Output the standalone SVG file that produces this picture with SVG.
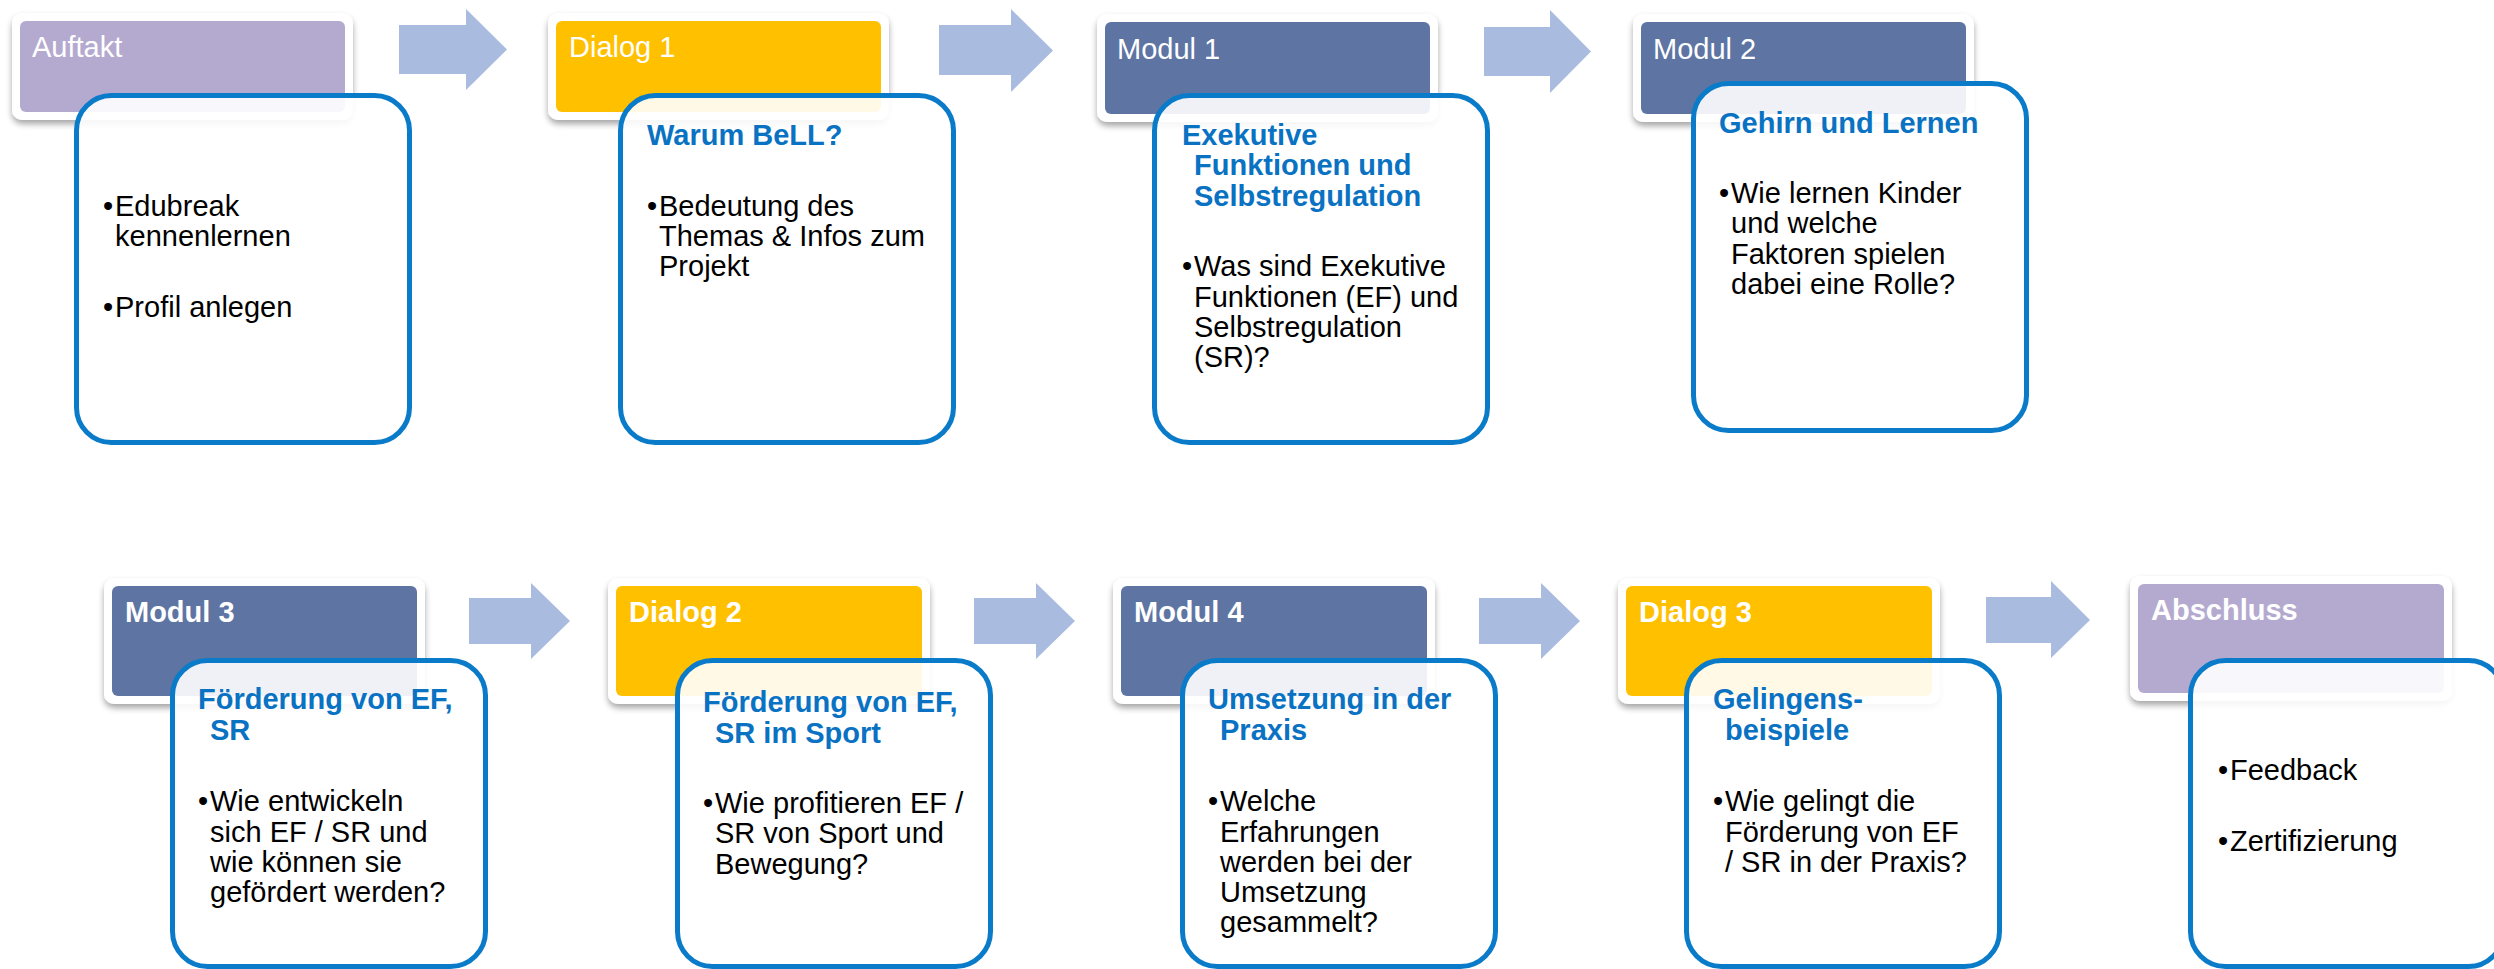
<svg xmlns="http://www.w3.org/2000/svg" width="2494" height="969" viewBox="0 0 2494 969">
  <defs>
    <filter id="cardShadow" x="-10%" y="-20%" width="120%" height="150%">
      <feGaussianBlur in="SourceAlpha" stdDeviation="3"/>
      <feOffset dx="0" dy="4" result="blur"/>
      <feComponentTransfer><feFuncA type="linear" slope="0.35"/></feComponentTransfer>
      <feMerge><feMergeNode/><feMergeNode in="SourceGraphic"/></feMerge>
    </filter>
    <style>
      text { font-family: "Liberation Sans", Arial, sans-serif; font-size: 29px; }
      .frame { fill: #ffffff; filter: url(#cardShadow); }
      .purple { fill: #B4AAD0; }
      .yellow { fill: #FFC000; }
      .slate { fill: #5E74A3; }
      .title { fill: #ffffff; }
      .title-b { fill: #ffffff; font-weight: bold; }
      .box { fill: #ffffff; fill-opacity: 0.9; stroke: #0A7BC8; stroke-width: 5; }
      .head { fill: #0A72C2; font-weight: bold; }
      .body { fill: #000000; }
      .arrow { fill: #A9BCE0; }
    </style>
  </defs>

  <rect width="2494" height="969" fill="#ffffff"/>

  <!-- flow arrows between the stages -->
  <g id="connectors">
    <polygon class="arrow" points="399,25 466,25 466,9 507,49.5 466,90 466,74 399,74"/>
    <polygon class="arrow" points="939,25 1011,25 1011,9 1053,50.5 1011,92 1011,75 939,75"/>
    <polygon class="arrow" points="1484,27 1550,27 1550,10 1591,51.5 1550,93 1550,76 1484,76"/>
    <polygon class="arrow" points="469,598 531,598 531,583 570,621 531,659 531,644 469,644"/>
    <polygon class="arrow" points="974,598 1036,598 1036,583 1075,621 1036,659 1036,644 974,644"/>
    <polygon class="arrow" points="1479,598 1541,598 1541,583 1580,621 1541,659 1541,644 1479,644"/>
    <polygon class="arrow" points="1986,597 2051,597 2051,581 2090,620 2051,658 2051,643 1986,643"/>
  </g>

  <!-- top row -->
  <g id="auftakt">
    <rect class="frame" x="12" y="13" width="341" height="107" rx="10"/>
    <rect class="purple" x="20" y="21" width="325" height="91" rx="6"/>
    <text class="title" x="32" y="57">Auftakt</text>
    <rect class="box" x="76.5" y="95.5" width="333" height="347" rx="35"/>
    <text class="body" x="103" y="216">•</text>
    <text class="body" x="115" y="216">Edubreak</text>
    <text class="body" x="115" y="246">kennenlernen</text>
    <text class="body" x="103" y="317">•</text>
    <text class="body" x="115" y="317">Profil anlegen</text>
  </g>

  <g id="dialog1">
    <rect class="frame" x="548" y="13" width="341" height="107" rx="10"/>
    <rect class="yellow" x="556" y="21" width="325" height="91" rx="6"/>
    <text class="title" x="569" y="57">Dialog 1</text>
    <rect class="box" x="620.5" y="95.5" width="333" height="347" rx="35"/>
    <text class="head" x="647" y="145">Warum BeLL?</text>
    <text class="body" x="647" y="216">•</text>
    <text class="body" x="659" y="216">Bedeutung des</text>
    <text class="body" x="659" y="246">Themas &amp; Infos zum</text>
    <text class="body" x="659" y="276">Projekt</text>
  </g>

  <g id="modul1">
    <rect class="frame" x="1097" y="14" width="341" height="108" rx="10"/>
    <rect class="slate" x="1105" y="22" width="325" height="92" rx="6"/>
    <text class="title" x="1117" y="59">Modul 1</text>
    <rect class="box" x="1154.5" y="95.5" width="333" height="347" rx="35"/>
    <text class="head" x="1182" y="145">Exekutive</text>
    <text class="head" x="1194" y="175">Funktionen und</text>
    <text class="head" x="1194" y="206">Selbstregulation</text>
    <text class="body" x="1182" y="276">•</text>
    <text class="body" x="1194" y="276">Was sind Exekutive</text>
    <text class="body" x="1194" y="307">Funktionen (EF) und</text>
    <text class="body" x="1194" y="337">Selbstregulation</text>
    <text class="body" x="1194" y="367">(SR)?</text>
  </g>

  <g id="modul2">
    <rect class="frame" x="1633" y="14" width="341" height="108" rx="10"/>
    <rect class="slate" x="1641" y="22" width="325" height="92" rx="6"/>
    <text class="title" x="1653" y="59">Modul 2</text>
    <rect class="box" x="1693.5" y="83.5" width="333" height="347" rx="35"/>
    <text class="head" x="1719" y="133">Gehirn und Lernen</text>
    <text class="body" x="1719" y="203">•</text>
    <text class="body" x="1731" y="203">Wie lernen Kinder</text>
    <text class="body" x="1731" y="233">und welche</text>
    <text class="body" x="1731" y="264">Faktoren spielen</text>
    <text class="body" x="1731" y="294">dabei eine Rolle?</text>
  </g>

  <!-- bottom row -->
  <g id="modul3">
    <rect class="frame" x="104" y="578" width="321" height="126" rx="10"/>
    <rect class="slate" x="112" y="586" width="305" height="110" rx="6"/>
    <text class="title-b" x="125" y="622">Modul 3</text>
    <rect class="box" x="172.5" y="660.5" width="313" height="306" rx="35"/>
    <text class="head" x="198" y="709">Förderung von EF,</text>
    <text class="head" x="210" y="740">SR</text>
    <text class="body" x="198" y="811">•</text>
    <text class="body" x="210" y="811">Wie entwickeln</text>
    <text class="body" x="210" y="842">sich EF / SR und</text>
    <text class="body" x="210" y="872">wie können sie</text>
    <text class="body" x="210" y="902">gefördert werden?</text>
  </g>

  <g id="dialog2">
    <rect class="frame" x="608" y="578" width="322" height="126" rx="10"/>
    <rect class="yellow" x="616" y="586" width="306" height="110" rx="6"/>
    <text class="title-b" x="629" y="622">Dialog 2</text>
    <rect class="box" x="677.5" y="660.5" width="313" height="306" rx="35"/>
    <text class="head" x="703" y="712">Förderung von EF,</text>
    <text class="head" x="715" y="743">SR im Sport</text>
    <text class="body" x="703" y="813">•</text>
    <text class="body" x="715" y="813">Wie profitieren EF /</text>
    <text class="body" x="715" y="843">SR von Sport und</text>
    <text class="body" x="715" y="874">Bewegung?</text>
  </g>

  <g id="modul4">
    <rect class="frame" x="1113" y="578" width="322" height="126" rx="10"/>
    <rect class="slate" x="1121" y="586" width="306" height="110" rx="6"/>
    <text class="title-b" x="1134" y="622">Modul 4</text>
    <rect class="box" x="1182.5" y="660.5" width="313" height="306" rx="35"/>
    <text class="head" x="1208" y="709">Umsetzung in der</text>
    <text class="head" x="1220" y="740">Praxis</text>
    <text class="body" x="1208" y="811">•</text>
    <text class="body" x="1220" y="811">Welche</text>
    <text class="body" x="1220" y="842">Erfahrungen</text>
    <text class="body" x="1220" y="872">werden bei der</text>
    <text class="body" x="1220" y="902">Umsetzung</text>
    <text class="body" x="1220" y="932">gesammelt?</text>
  </g>

  <g id="dialog3">
    <rect class="frame" x="1618" y="578" width="322" height="126" rx="10"/>
    <rect class="yellow" x="1626" y="586" width="306" height="110" rx="6"/>
    <text class="title-b" x="1639" y="622">Dialog 3</text>
    <rect class="box" x="1686.5" y="660.5" width="313" height="306" rx="35"/>
    <text class="head" x="1713" y="709">Gelingens-</text>
    <text class="head" x="1725" y="740">beispiele</text>
    <text class="body" x="1713" y="811">•</text>
    <text class="body" x="1725" y="811">Wie gelingt die</text>
    <text class="body" x="1725" y="842">Förderung von EF</text>
    <text class="body" x="1725" y="872">/ SR in der Praxis?</text>
  </g>

  <g id="abschluss">
    <rect class="frame" x="2130" y="576" width="322" height="125" rx="10"/>
    <rect class="purple" x="2138" y="584" width="306" height="109" rx="6"/>
    <text class="title-b" x="2151" y="620">Abschluss</text>
    <rect class="box" x="2190.5" y="660.5" width="313" height="306" rx="35"/>
    <text class="body" x="2218" y="780">•</text>
    <text class="body" x="2230" y="780">Feedback</text>
    <text class="body" x="2218" y="851">•</text>
    <text class="body" x="2230" y="851">Zertifizierung</text>
  </g>
</svg>
